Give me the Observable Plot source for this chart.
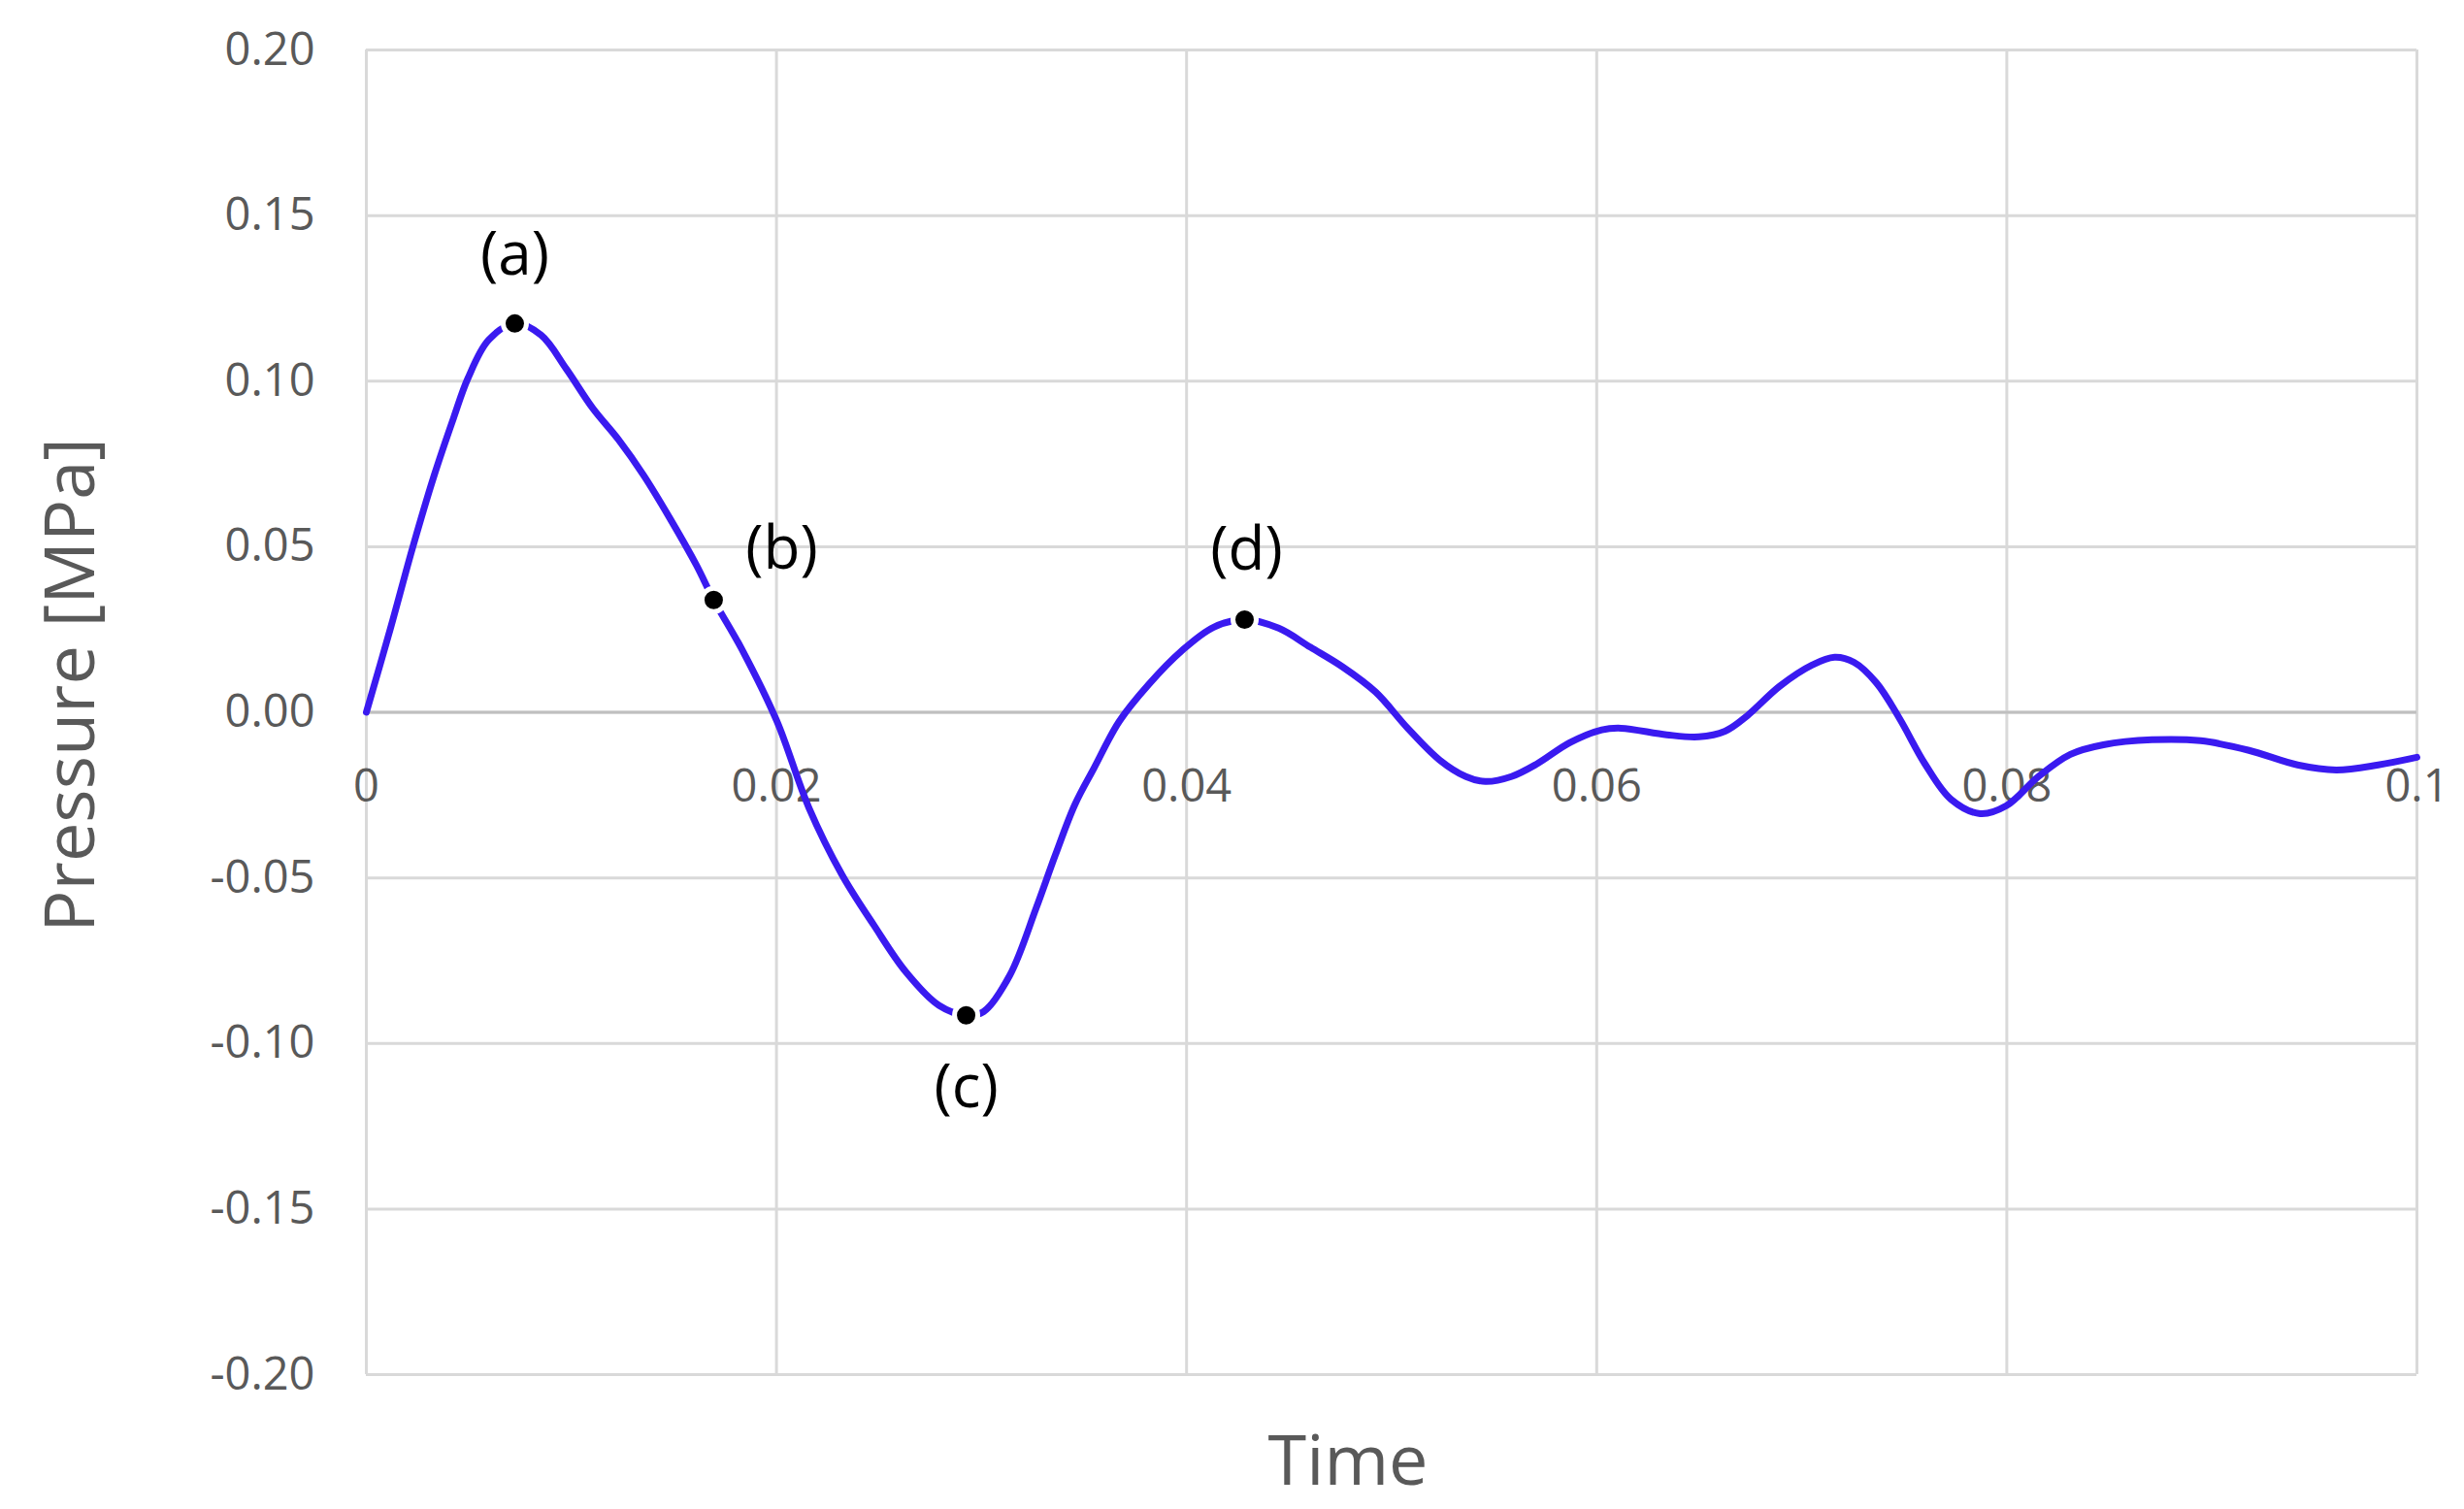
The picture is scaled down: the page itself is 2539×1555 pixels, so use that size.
<!DOCTYPE html>
<html>
<head>
<meta charset="utf-8">
<script src="https://cdn.jsdelivr.net/npm/d3@7"></script>
<script src="https://cdn.jsdelivr.net/npm/@observablehq/plot@0.6"></script>
<style>
  html, body { margin: 0; padding: 0; background: #ffffff; }
  #chart { width: 2539px; height: 1555px; }
</style>
</head>
<body>
<div id="chart"></div>
<script>
// ---- data ----
const timeValues = [
  0, 0.00118, 0.00227, 0.0033, 0.00426, 0.00495, 0.00596, 0.00724, 0.00852, 0.00975,
  0.01103, 0.0123, 0.01354, 0.01481, 0.01609, 0.01694, 0.01827, 0.02002, 0.02158, 0.02319,
  0.02475, 0.02631, 0.02792, 0.02925, 0.0301, 0.03138, 0.03266, 0.0336, 0.03455, 0.03549,
  0.03672, 0.03815, 0.03975, 0.04132, 0.04283, 0.04449, 0.04605, 0.04761, 0.04922, 0.05078,
  0.05234, 0.05362, 0.05457, 0.05584, 0.05708, 0.05868, 0.06025, 0.06119, 0.06342, 0.06498,
  0.06626, 0.06735, 0.06891, 0.07052, 0.0716, 0.07255, 0.07364, 0.07477, 0.07601, 0.07728,
  0.0787, 0.07998, 0.08154, 0.0831, 0.08471, 0.08708, 0.08945, 0.09181, 0.09418, 0.09607,
  0.09811, 0.1
];
const pressureValues = [
  0, 0.0254, 0.05, 0.0714, 0.089, 0.1008, 0.1124, 0.1174, 0.1139, 0.1037,
  0.0919, 0.0823, 0.0714, 0.0585, 0.0445, 0.0339, 0.0195, -0.0027, -0.0288, -0.049,
  -0.0643, -0.0784, -0.0885, -0.0915, -0.0904, -0.0794, -0.0592, -0.0431, -0.0279, -0.0168,
  -0.0027, 0.0084, 0.0185, 0.0257, 0.028, 0.0254, 0.0196, 0.0137, 0.0061, -0.0048,
  -0.0144, -0.0194, -0.0209, -0.0194, -0.0156, -0.0092, -0.0053, -0.0048, -0.0068, -0.0074,
  -0.0057, -0.001, 0.0078, 0.0143, 0.0166, 0.0151, 0.0089, -0.0019, -0.0156, -0.0263,
  -0.0306, -0.0282, -0.0194, -0.0127, -0.0098, -0.0083, -0.0086, -0.0115, -0.0159, -0.0174,
  -0.0159, -0.0136
];
const markerLabels = ["(a)", "(b)", "(c)", "(d)"];
const markerTimes = [0.00724, 0.01694, 0.02925, 0.04283];
const markerPressures = [0.1174, 0.0339, -0.0915, 0.028];
const xTickValues = [0, 0.02, 0.04, 0.06, 0.08, 0.1];
const xTickLabels = ["0", "0.02", "0.04", "0.06", "0.08", "0.1"];
const yTickValues = [-0.2, -0.15, -0.1, -0.05, 0, 0.05, 0.1, 0.15, 0.2];
const yTickLabels = ["-0.20", "-0.15", "-0.10", "-0.05", "0.00", "0.05", "0.10", "0.15", "0.20"];
const xTitle = "Time";
const yTitle = "Pressure [MPa]";

// ---- tables built from the arrays ----
const series = timeValues.map((t, i) => ({t, p: pressureValues[i]}));
const markers = markerLabels.map((label, i) => ({label, t: markerTimes[i], p: markerPressures[i]}));
const xTicks = xTickValues.map((v, i) => ({v, label: xTickLabels[i]}));
const yTicks = yTickValues.map((v, i) => ({v, label: yTickLabels[i]}));

// label offsets (styling, relative to each marker)
const labelDx = {"(a)": 0, "(b)": 70, "(c)": 0, "(d)": 2};
const labelDy = {"(a)": -70, "(b)": -52, "(c)": 75, "(d)": -71};

const tickColor = "#595959";
const gridColor = "#d9d9d9";
const lineColor = "#3a1af0";

const chart = Plot.plot({
  width: 2539,
  height: 1555,
  marginLeft: 377,
  marginRight: 49,
  marginTop: 51,
  marginBottom: 139,
  style: {fontFamily: "'Open Sans', 'Noto Sans', sans-serif", background: "#ffffff", overflow: "visible"},
  x: {domain: [0, 0.1], axis: null},
  y: {domain: [-0.2, 0.2], axis: null},
  marks: [
    Plot.gridX(xTickValues, {stroke: gridColor, strokeOpacity: 1, strokeWidth: 3}),
    Plot.gridY(yTickValues, {stroke: gridColor, strokeOpacity: 1, strokeWidth: 3}),
    Plot.ruleY([0], {stroke: "#bfbfbf", strokeWidth: 3}),
    // y tick labels
    Plot.text(yTicks, {y: "v", text: "label", frameAnchor: "left", textAnchor: "end", dx: -53,
      fill: tickColor, fontSize: 47}),
    // x tick labels at the zero line
    Plot.text(xTicks, {x: "v", y: () => 0, text: "label", dy: 77, fill: tickColor, fontSize: 47}),
    // series
    Plot.line(series, {x: "t", y: "p", stroke: lineColor, strokeWidth: 7, curve: "catmull-rom"}),
    // markers
    Plot.dot(markers, {x: "t", y: "p", r: 12, fill: "#000000", stroke: "#ffffff", strokeWidth: 5}),
    ...markers.map(m => Plot.text([m], {x: "t", y: "p", text: "label", fill: "#000000", fontSize: 62,
      dx: labelDx[m.label], dy: labelDy[m.label]})),
    // axis titles
    Plot.text([xTitle], {frameAnchor: "bottom", lineAnchor: "middle", textAnchor: "middle",
      dy: 90, dx: -45, fill: tickColor, fontSize: 72}),
    Plot.text([yTitle], {frameAnchor: "left", textAnchor: "middle", lineAnchor: "middle", rotate: -90,
      dx: -304, dy: -28, fill: tickColor, fontSize: 72})
  ]
});

document.getElementById("chart").appendChild(chart);
</script>
</body>
</html>
